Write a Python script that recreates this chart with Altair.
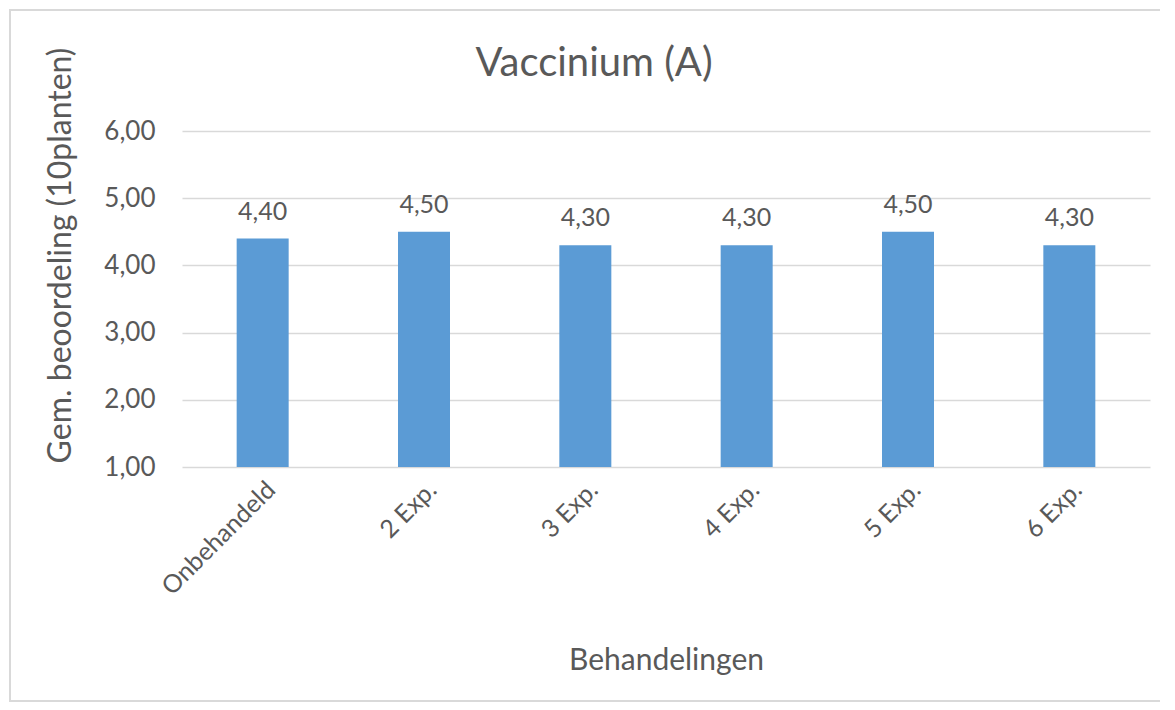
import altair as alt
import pandas as pd

categories = ["Onbehandeld", "2 Exp.", "3 Exp.", "4 Exp.", "5 Exp.", "6 Exp."]
values = [4.40, 4.50, 4.30, 4.30, 4.50, 4.30]
y_ticks = [1, 2, 3, 4, 5, 6]

df = pd.DataFrame({"cat": categories, "val": values})

FONT = "Lato"
GREY = "#595959"

base = alt.Chart(df)

bars = base.mark_bar(size=52, color="#5B9BD5").encode(
    x=alt.X("cat:N", sort=categories, title="Behandelingen",
            scale=alt.Scale(paddingInner=0.0, paddingOuter=0.0),
            axis=alt.Axis(labelAngle=-45, labelAlign="right", labelBaseline="top",
                          labelPadding=10, labelFontSize=25, labelColor=GREY, labelFont=FONT,
                          domain=False, ticks=False, titleFontSize=30, titleFont=FONT,
                          titleColor=GREY, titleFontWeight="normal", titleY=193,
                          titleBaseline="middle")),
    y=alt.Y("val:Q", title="Gem. beoordeling (10planten)",
            scale=alt.Scale(domain=[1, 6], zero=False, nice=False),
            axis=alt.Axis(values=y_ticks, labelExpr="replace(format(datum.value, '.2f'), '.', ',')",
                          labelFontSize=26, labelColor=GREY, labelFont=FONT, labelPadding=27,
                          domain=False, ticks=False, gridColor="#d9d9d9", gridWidth=1.3,
                          titleFontSize=32, titleFont=FONT, titleColor=GREY,
                          titleFontWeight="normal", titleX=-122, titleY=124,
                          titleAngle=-90, titleAlign="center", titleBaseline="middle")),
    y2=alt.datum(1),
)

labels = base.transform_calculate(
    lab="replace(format(datum.val, '.2f'), '.', ',')"
).mark_text(dy=-14, baseline="bottom", fontSize=25, color=GREY, font=FONT).encode(
    x=alt.X("cat:N", sort=categories),
    y=alt.Y("val:Q"),
    text="lab:N",
)

frame = alt.Chart(pd.DataFrame({"k": [0]})).mark_rect(
    fill=None, stroke="#d9d9d9", strokeWidth=2
).encode(
    x=alt.value(-172), x2=alt.value(988), y=alt.value(-121), y2=alt.value(570)
)

chart = alt.layer(frame, bars, labels).properties(
    width=968, height=336,
    title=alt.TitleParams("Vaccinium (A)", fontSize=40, font=FONT, color=GREY,
                          fontWeight="normal", anchor="middle", dx=-72, offset=-75),
    autosize=alt.AutoSizeParams(type="none"),
    padding={"left": 174, "top": 123, "right": 10, "bottom": 235},
).configure_view(stroke=None)

chart.save("out.html", embed_options={"renderer": "svg", "actions": False})
